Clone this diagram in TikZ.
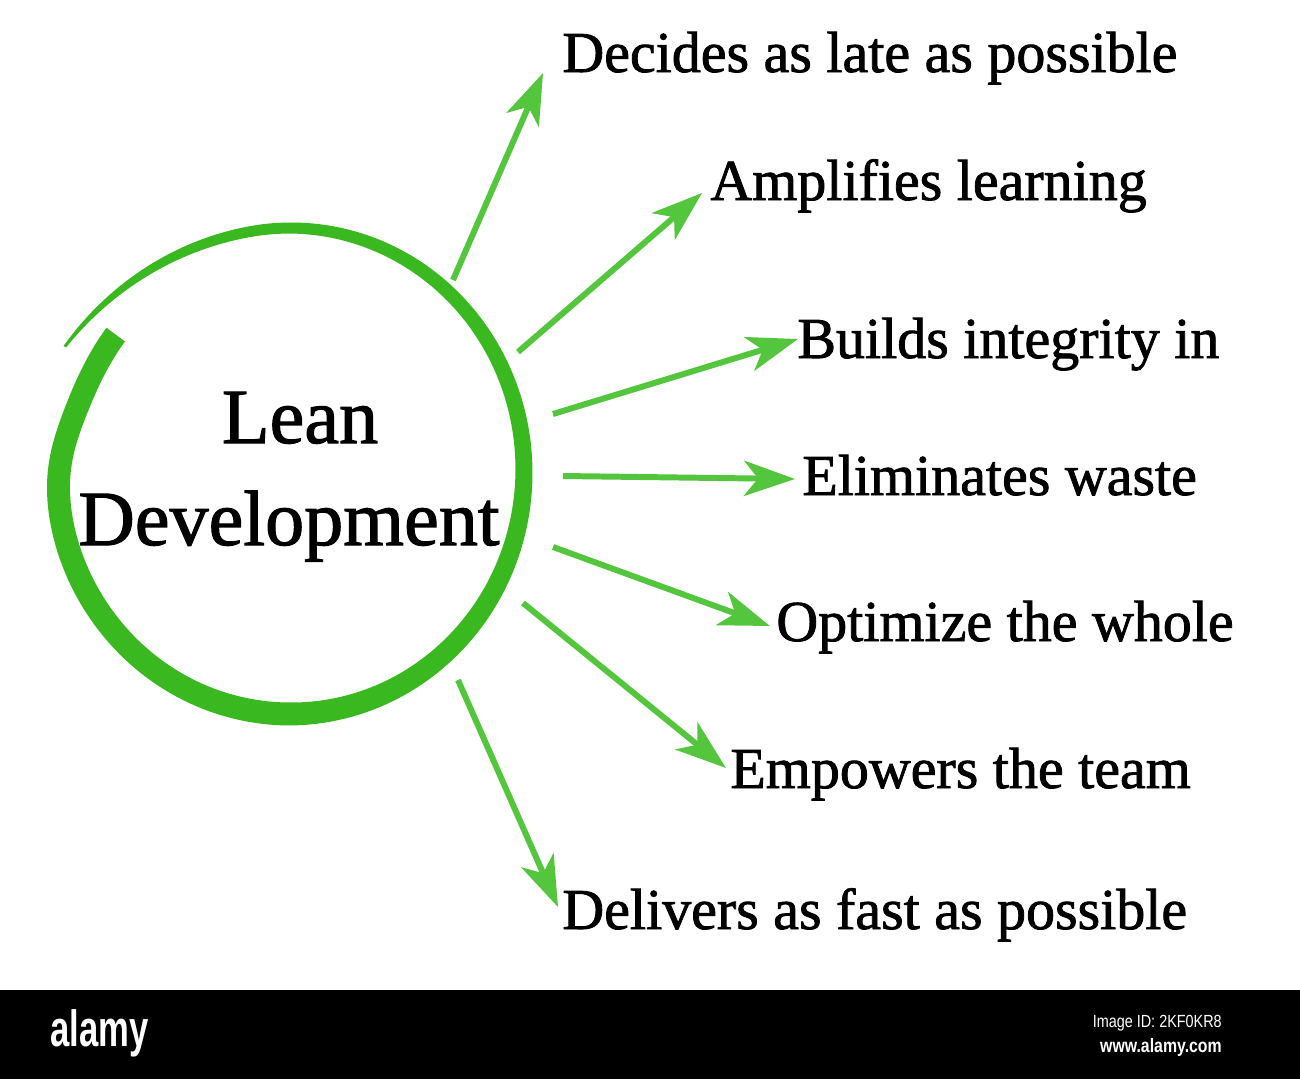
\documentclass[tikz,border=0pt]{standalone}
\usepackage{fontspec}
\setmainfont{Liberation Serif}
\newfontfamily\heavy[FakeBold=1.4]{Liberation Serif}
\newfontfamily\wmfont{Liberation Sans}
\usetikzlibrary{arrows.meta}
\definecolor{circlegreen}{RGB}{58,184,32}
\definecolor{arrowgreen}{RGB}{84,198,62}
\begin{document}
\begin{tikzpicture}[x=0.02cm,y=-0.02cm,
  declare function={sc(\t)=1+0.09*(max(\t-100,0)/52)^2-0.068/(1+exp(min((\t+188)/6,7)));
                    hw(\t)=(\t>90)?(5.5-4*((\t-90)/62)^2):(min(11.5,5.5+(90-\t)/30));},
  arr/.style={line width=3.4pt, draw=arrowgreen, -{Stealth[length=29pt,width=20pt,inset=8pt,fill=arrowgreen]}},
  lbl/.style={anchor=base west, inner sep=0pt, font=\heavy\fontsize{33}{40}\selectfont},
  ttl/.style={anchor=base, inner sep=0pt, font=\heavy\fontsize{44.5}{52}\selectfont},
  wm/.style={inner sep=0pt, text=white}]
\useasboundingbox (0,0) rectangle (1300,1079);
\fill[white] (0,0) rectangle (1300,1079);
% brush-stroke circle
\fill[circlegreen]
  plot[domain=152:-217, samples=220, variable=\t]
    ({290+(234*sc(\t)+hw(\t))*cos(\t)}, {471-(243*sc(\t)+hw(\t))*sin(\t)})
  -- plot[domain=-217:152, samples=220, variable=\t]
    ({290+(234*sc(\t)-hw(\t))*cos(\t)}, {471-(243*sc(\t)-hw(\t))*sin(\t)})
  -- cycle;
% title
\node[ttl] (lean) at (300,443) {Lean};
\node[ttl] (dev) at (289,545) {Development};
% labels
\node[lbl] (l1) at (562,72) {Decides as late as possible};
\node[lbl] (l2) at (710,200) {Amplifies learning};
\node[lbl] (l3) at (797,358) {Builds integrity in};
\node[lbl] (l4) at (802,495) {Eliminates waste};
\node[lbl] (l5) at (776,641) {Optimize the whole};
\node[lbl] (l6) at (730,788) {Empowers the team};
\node[lbl] (l7) at (562,929) {Delivers as fast as possible};
% arrow ends
\coordinate (s1) at (453,280); \coordinate (t1) at (543,73);
\coordinate (s2) at (518,352); \coordinate (t2) at (702,193);
\coordinate (s3) at (553,414); \coordinate (t3) at (798,339);
\coordinate (s4) at (563,476); \coordinate (t4) at (795,479);
\coordinate (s5) at (553,547); \coordinate (t5) at (770,626);
\coordinate (s6) at (523,603); \coordinate (t6) at (726,768);
\coordinate (s7) at (458,680); \coordinate (t7) at (558,907);
\foreach \i in {1,...,7}{\draw[arr] (s\i) -- (t\i);}
% bottom bar
\fill[black] (0,990) rectangle (1300,1079);
\node[wm, anchor=base west, font=\wmfont\bfseries\fontsize{29}{29}\selectfont, xscale=0.68] (logo) at (50,1046) {alamy};
\node[wm, anchor=base east, font=\wmfont\fontsize{10}{10}\selectfont, xscale=0.82] (imgid) at (1222,1027) {Image ID: 2KF0KR8};
\node[wm, anchor=base east, font=\wmfont\bfseries\fontsize{11}{11}\selectfont, xscale=0.82] (url) at (1222,1052) {www.alamy.com};
\end{tikzpicture}
\end{document}
